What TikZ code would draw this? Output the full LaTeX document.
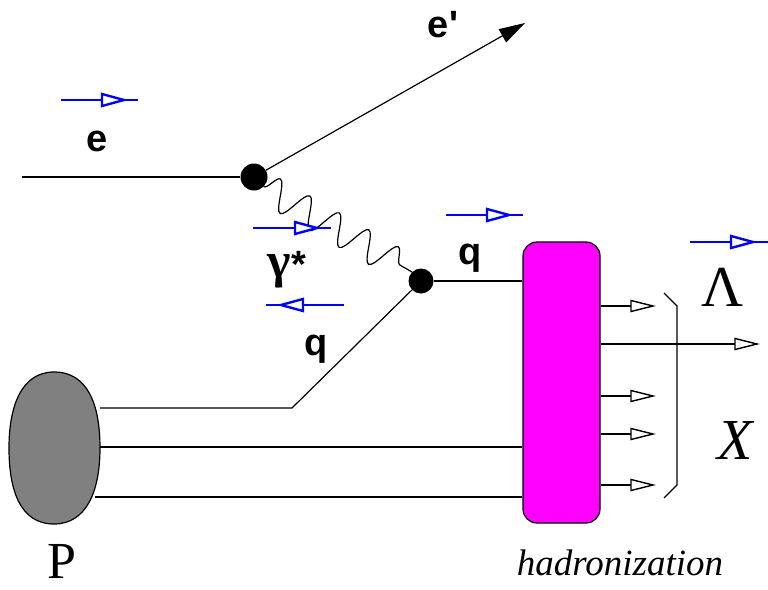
\documentclass[tikz,border=0pt]{standalone}
\usepackage{fontspec}
\setmainfont{Liberation Serif}
\setsansfont{Liberation Sans}
\usetikzlibrary{arrows.meta,decorations.pathmorphing}
\definecolor{hmag}{RGB}{255,0,255}
\definecolor{pgray}{RGB}{128,128,128}
% #1 = tip x, #2 = y, #3 = +1 (right) or -1 (left)
\newcommand{\mybluetri}[3]{%
  \draw[blue, line width=2.4pt, line join=miter, fill=white] (#1,#2) -- (#1-#3*22,#2-6) -- (#1-#3*22,#2+6) -- cycle;}
\newcommand{\myblacktri}[2]{%
  \draw[line width=1.4pt, line join=miter, fill=white] (#1,#2) -- (#1-22,#2-5.5) -- (#1-22,#2+5.5) -- cycle;}
\begin{document}
\begin{tikzpicture}[x=1pt,y=-1pt,
  ln/.style={line width=1.2pt},
  blueln/.style={draw=blue, line width=1.6pt},
  vtx/.style={circle, fill=black, inner sep=0pt, minimum size=27pt},
  lbl/.style={font=\sffamily\bfseries\fontsize{38}{40}\selectfont, inner sep=0pt},
  serif/.style={font=\rmfamily\fontsize{58}{60}\selectfont, inner sep=0pt}]
\useasboundingbox (0,0) rectangle (768,589);
% nodes
\node[vtx] (v1) at (254,177) {};
\node[vtx, minimum size=25pt] (v2) at (421,281) {};
\node[draw, ln, fill=hmag, rounded corners=14pt, minimum width=77pt, minimum height=281pt, inner sep=0pt] (box) at (561.5,382.5) {};
% proton blob
\draw[ln, fill=pgray] (54,372) .. controls (88,372) and (100,405) .. (100,448)
  .. controls (100,492) and (86,524) .. (54,524)
  .. controls (20,524) and (9,490) .. (9,448)
  .. controls (9,405) and (22,372) .. (54,372);
% coordinates
\coordinate (ein) at (22,177);
\coordinate (eout) at (525,23);
\coordinate (k) at (292,408);
\coordinate (q1) at (100,408);
\coordinate (q2) at (100,447);
\coordinate (q3) at (95,497);
% electron lines
\draw[ln] (ein) -- (v1);
\draw[ln, -{Triangle[length=26pt,width=15pt]}] (v1) -- (eout);
% photon
\draw[ln, decorate, decoration={snake, segment length=34pt, amplitude=15pt}] (v1.south east) -- (v2.north west);
% quark lines
\draw[ln] (v2) -- (box.west |- v2);
\draw[ln] (q1) -- (k) -- (v2);
\draw[ln] (q2) -- (box.west |- q2);
\draw[ln] (q3) -- (box.west |- q3);
% outgoing arrows
\foreach \yy/\xx in {306/653, 344/757, 396/653, 434/653, 485/653}{
  \coordinate (t\yy) at (\xx-22,\yy);
  \draw[ln] (box.east |- t\yy) -- (t\yy);
  \myblacktri{\xx}{\yy}
}
% bracket
\draw[ln] (664,293) -- (677,306) -- (677,485) -- (664,498);
% blue arrows
\coordinate (a1) at (61,100); \coordinate (b1) at (138,100);
\draw[blueln] (a1) -- (b1); \mybluetri{124}{100}{1}
\coordinate (a2) at (253,228); \coordinate (b2) at (331,228);
\draw[blueln] (a2) -- (b2); \mybluetri{317}{228}{1}
\coordinate (a3) at (344,305); \coordinate (b3) at (266,305);
\draw[blueln] (a3) -- (b3); \mybluetri{281}{305}{-1}
\coordinate (a4) at (446,215); \coordinate (b4) at (523,215);
\draw[blueln] (a4) -- (b4); \mybluetri{509}{215}{1}
\coordinate (a5) at (690,242); \coordinate (b5) at (768,242);
\draw[blueln] (a5) -- (b5); \mybluetri{753}{242}{1}
% labels
\node[lbl] (le) at (97,141) {e};
\node[lbl] (lep) at (443,25) {e\textquotesingle};
\node[lbl] (lq1) at (470,258) {q};
\node[lbl] (lq2) at (316,349) {q};
\node[lbl] (lg) at (287,270) {{\rmfamily\bfseries\fontsize{50}{52}\selectfont γ}*};
\node[serif] (lL) at (723,287) {Λ};
\node[serif, font=\rmfamily\itshape\fontsize{58}{60}\selectfont] (lX) at (735,441) {X};
\node[serif, font=\rmfamily\fontsize{52}{54}\selectfont] (lP) at (62,561) {P};
\node[font=\rmfamily\itshape\fontsize{37}{40}\selectfont, inner sep=0pt] (lh) at (620,563) {hadronization};
\end{tikzpicture}
\end{document}
